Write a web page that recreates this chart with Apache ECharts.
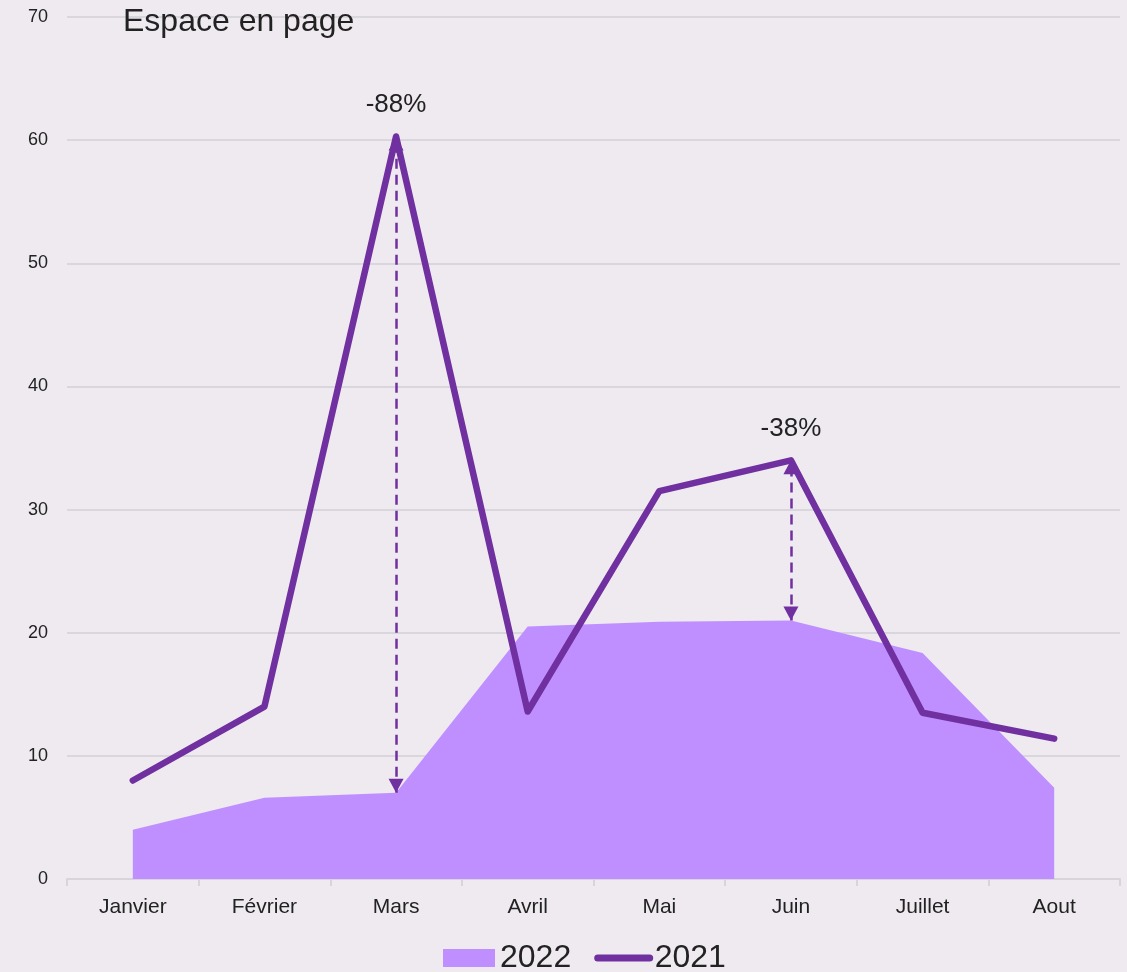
<!DOCTYPE html>
<html>
<head>
<meta charset="utf-8">
<script src="https://cdn.jsdelivr.net/npm/echarts@6/dist/echarts.min.js"></script>
<style>
html,body{margin:0;padding:0;background:#EEEAF0;}
#chart{width:1127px;height:972px;}
</style>
</head>
<body>
<div id="chart"></div>
<script>
const categories = ['Janvier','Février','Mars','Avril','Mai','Juin','Juillet','Aout'];
const values2022 = [4, 6.6, 7, 20.5, 20.9, 21, 18.35, 7.4];
const values2021 = [8, 14, 60.3, 13.6, 31.5, 34, 13.5, 11.4];
const annotIndex = [2, 5];
const annotText = ['-88%', '-38%'];
const yTicks = {min: 0, max: 70, interval: 10};

const FONT = 'Liberation Sans, Arial, sans-serif';
const chart = echarts.init(document.getElementById('chart'), null, {renderer: 'canvas'});

const arrowLines = annotIndex.map(i => [
  {coord: [categories[i], values2022[i]]},
  {coord: [categories[i], values2021[i]]}
]);
const labelData = annotIndex.map((i, k) => ({
  value: [categories[i], values2021[i]],
  label: {formatter: annotText[k]}
}));

chart.setOption({
  backgroundColor: '#EEEAF0',
  animation: false,
  textStyle: {fontFamily: FONT},
  title: {
    text: 'Espace en page',
    left: 118, top: 1,
    textStyle: {fontSize: 32, fontWeight: 'normal', color: '#222', fontFamily: FONT}
  },
  grid: {left: 67, right: 7, top: 17, bottom: 93},
  legend: {
    top: 937, left: 438,
    itemWidth: 52, itemHeight: 18, itemGap: 23,
    textStyle: {fontSize: 32, color: '#222', fontFamily: FONT},
    data: [
      {name: '2022', icon: 'rect'},
      {name: '2021', lineStyle: {width: 7, cap: 'round'}, itemStyle: {opacity: 0}}
    ]
  },
  xAxis: {
    type: 'category',
    data: categories,
    boundaryGap: true,
    axisLine: {show: true, lineStyle: {color: '#D8D4DB', width: 2}},
    axisTick: {show: true, length: 7, lineStyle: {color: '#D8D4DB', width: 2}},
    axisLabel: {fontSize: 21, color: '#222', margin: 18, fontFamily: FONT},
    splitLine: {show: false}
  },
  yAxis: {
    type: 'value',
    min: yTicks.min, max: yTicks.max, interval: yTicks.interval,
    axisLine: {show: false},
    axisTick: {show: false},
    axisLabel: {fontSize: 18, color: '#222', margin: 19, fontFamily: FONT},
    splitLine: {lineStyle: {color: '#DAD6DD', width: 2}}
  },
  series: [
    {
      name: '2022',
      type: 'line',
      data: values2022,
      symbol: 'none',
      lineStyle: {width: 0, color: '#BF8FFF'},
      itemStyle: {color: '#BF8FFF'},
      areaStyle: {color: '#BF8FFF', opacity: 1},
      z: 1
    },
    {
      name: '2021',
      type: 'line',
      data: values2021,
      symbol: 'none',
      lineStyle: {width: 6.5, color: '#7030A0', cap: 'round', join: 'round'},
      itemStyle: {color: '#7030A0'},
      z: 3,
      markLine: {
        silent: true,
        symbol: ['triangle', 'triangle'],
        symbolSize: [15, 14],
        symbolOffset: [[0, 7], [0, 7]],
        label: {show: false},
        lineStyle: {type: [10, 6], width: 2.5, color: '#7030A0'},
        data: arrowLines
      }
    },
    {
      name: 'annotations',
      type: 'scatter',
      data: labelData,
      symbolSize: 1,
      itemStyle: {color: 'rgba(0,0,0,0)'},
      silent: true,
      label: {show: true, position: 'top', distance: 18, fontSize: 26, color: '#222', opacity: 1, fontFamily: FONT},
      z: 4
    }
  ]
});
</script>
</body>
</html>
